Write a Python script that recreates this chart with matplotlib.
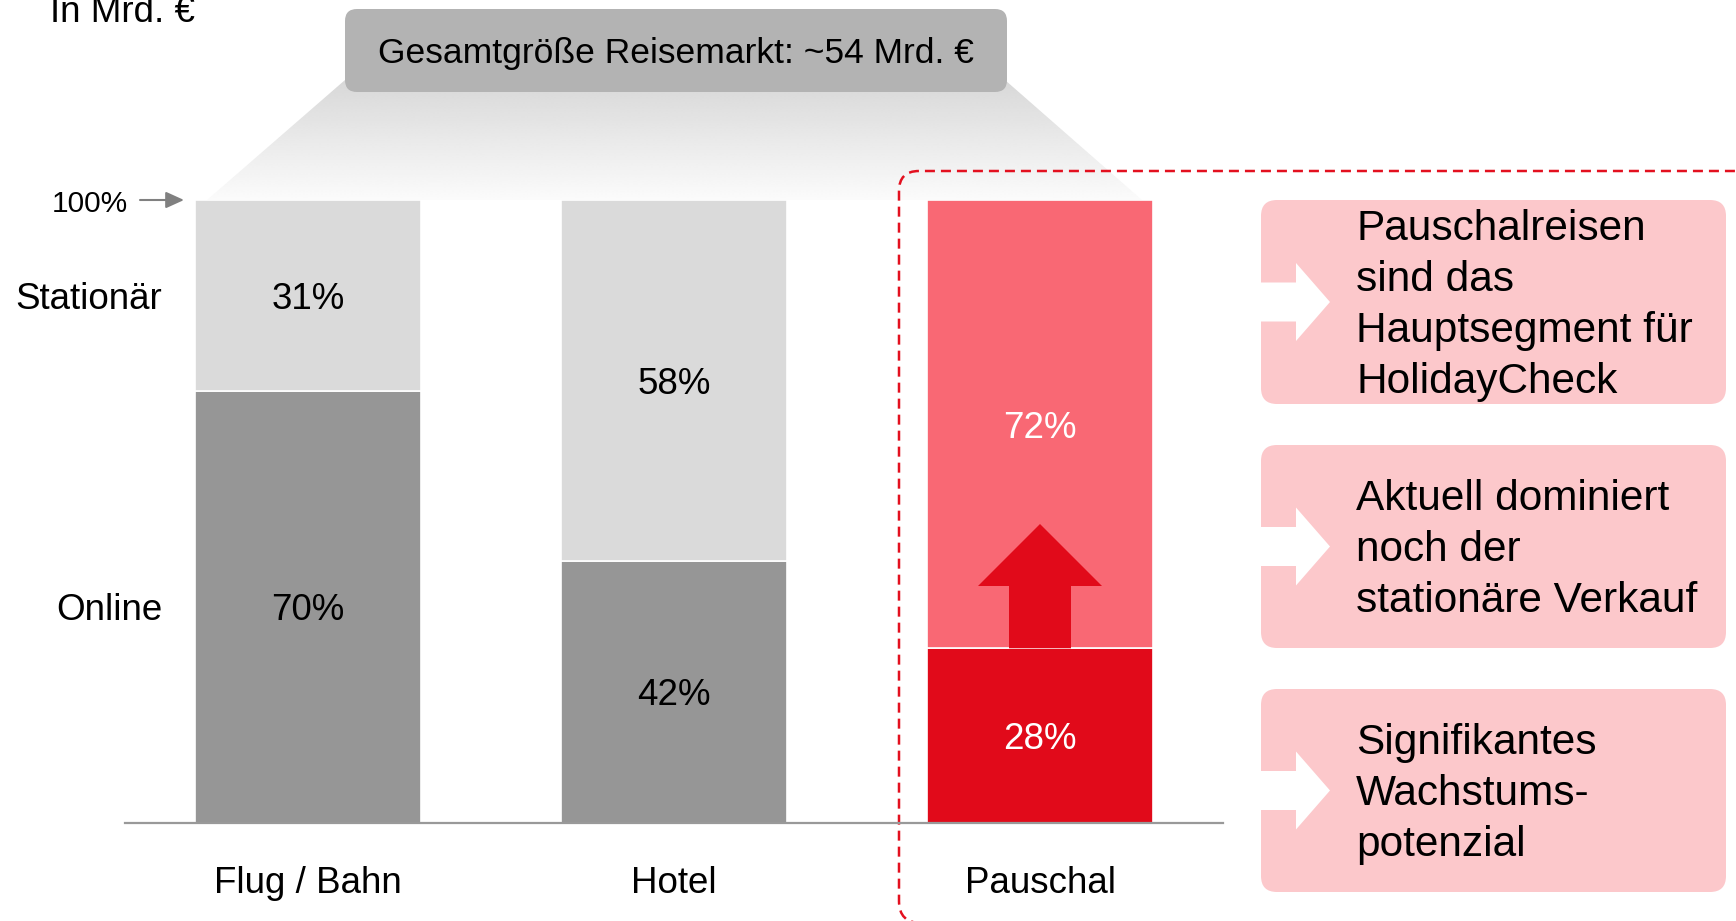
import matplotlib
matplotlib.use("Agg")
import matplotlib.pyplot as plt
from matplotlib.patches import FancyBboxPatch, Polygon, PathPatch
from matplotlib.path import Path
import numpy as np

plt.rcParams['font.family'] = ['Liberation Sans', 'DejaVu Sans']

# ---------------- data ----------------
categories = ["Flug / Bahn", "Hotel", "Pauschal"]
online = [70, 42, 28]
stationaer = [31, 58, 72]
online_labels = ["70%", "42%", "28%"]
stationaer_labels = ["31%", "58%", "72%"]
segment_names = ["Stationär", "Online"]
title_box_text = "Gesamtgröße Reisemarkt: ~54 Mrd. €"
unit_text = "In Mrd. €"
top_text = "100%"
insights = [
    ["Pauschalreisen", "sind das", "Hauptsegment für", "HolidayCheck"],
    ["Aktuell dominiert", "noch der", "stationäre Verkauf"],
    ["Signifikantes", "Wachstums-", "potenzial"],
]

# ---------------- style ----------------
online_colors = ["#969696", "#969696", "#E10A1A"]
stat_colors = ["#DADADA", "#DADADA", "#F96874"]
label_colors = ["black", "black", "white"]
RED = "#E3101F"
PINK = "#FCC8CB"
FS = 26.5

W, H = 1736, 921
fig = plt.figure(figsize=(W / 100, H / 100), dpi=100)

# background overlay in pixel coordinates
bg = fig.add_axes([0, 0, 1, 1], zorder=0)
bg.set_xlim(0, W)
bg.set_ylim(H, 0)
bg.axis("off")

# main bar axes: y 0 -> px 822.6, y 100 -> px 200 ; x -0.5 -> px 125, 2.5 -> px 1223
y0_px, y100_px = 822.6, 200.0
x_left_px, x_right_px = 125.0, 1223.0
ax = fig.add_axes([x_left_px / W, (H - y0_px) / H, (x_right_px - x_left_px) / W,
                   (y0_px - y100_px) / H], zorder=2)
ax.patch.set_alpha(0)
ax.set_xlim(-0.5, 2.5)
ax.set_ylim(0, 100)
px_per_val = (y0_px - y100_px) / 100.0
px_per_x = (x_right_px - x_left_px) / 3.0


def val_of_px(py):
    return (y0_px - py) / px_per_val


# fan gradient
fan = Polygon([(345, 80), (1005, 80), (1142, 200), (207, 200)], closed=True,
              fc="none", ec="none")
bg.add_patch(fan)
grad = np.linspace(0.845, 0.985, 256)[:, None] * np.ones((1, 2))
im = bg.imshow(grad, cmap="gray", vmin=0, vmax=1, extent=[195, 1150, 200, 80],
               origin="upper", aspect="auto", zorder=1, interpolation="bilinear")
im.set_clip_path(fan)
bg.set_xlim(0, W)
bg.set_ylim(H, 0)

# gray title box
bg.add_patch(FancyBboxPatch((345, 9), 662, 83, boxstyle="round,pad=0,rounding_size=12",
                            fc="#B3B3B3", ec="none", zorder=2))
bg.text(676, 63, title_box_text, ha="center", va="baseline", fontsize=25.5, zorder=3)

# dashed highlight box (left + top edges; bottom/right lie outside the canvas)
L, T, B, R = 899, 171, 923, 1760
rt, rb = 20, 22
verts = [(L + rb, B), (L, B), (L, B - rb), (L, T + rt), (L, T), (L + rt, T), (R, T)]
codes = [Path.MOVETO, Path.CURVE3, Path.CURVE3, Path.LINETO, Path.CURVE3, Path.CURVE3,
         Path.LINETO]
bg.add_patch(PathPatch(Path(verts, codes), fc="none", ec=RED, lw=1.8,
                       ls=(0, (4, 2.4)), zorder=2))

# unit label
bg.text(50, 22, unit_text, ha="left", va="baseline", fontsize=FS)

# 100% marker
bg.text(128, 201, top_text, ha="right", va="center_baseline", fontsize=21.5)
bg.annotate("", xy=(184, 200), xytext=(140, 200),
            arrowprops=dict(arrowstyle="-|>,head_length=0.55,head_width=0.25",
                            color="#808080", lw=1.5, mutation_scale=20,
                            shrinkA=0, shrinkB=0))

# insight boxes
boxes_px = [(200, 404), (445, 648), (689, 892)]
for (top, bot), lines in zip(boxes_px, insights):
    bg.add_patch(FancyBboxPatch((1261, top), 465, bot - top,
                                boxstyle="round,pad=0,rounding_size=16",
                                fc=PINK, ec="none", zorder=2))
    cy = (top + bot) / 2
    bg.add_patch(Polygon([(1259, cy - 19.5), (1296, cy - 19.5), (1296, cy - 39),
                          (1330, cy), (1296, cy + 39), (1296, cy + 19.5),
                          (1259, cy + 19.5)], closed=True, fc="white", ec="none",
                         zorder=3))
    n = len(lines)
    for i, line in enumerate(lines):
        base = cy + (i - (n - 1) / 2) * 51 + 14.5
        bg.text(1356, base, line, ha="left", va="baseline", fontsize=30.5, zorder=4)

# ---------------- bars ----------------
x = np.arange(len(categories))
totals = [o + s for o, s in zip(online, stationaer)]
on_share = [o / t * 100 for o, t in zip(online, totals)]
st_share = [s / t * 100 for s, t in zip(stationaer, totals)]
bw = 226 / px_per_x

ax.bar(x, on_share, width=bw, color=online_colors, edgecolor="white", linewidth=1.2, zorder=2)
ax.bar(x, st_share, bottom=on_share, width=bw, color=stat_colors, edgecolor="white",
       linewidth=1.2, zorder=2)

for i in range(len(categories)):
    ax.text(x[i], on_share[i] / 2, online_labels[i], ha="center", va="center_baseline",
            fontsize=FS, color=label_colors[i], zorder=5)
    ax.text(x[i], on_share[i] + st_share[i] / 2, stationaer_labels[i], ha="center",
            va="center_baseline", fontsize=FS, color=label_colors[i], zorder=5)
    ax.text(x[i], val_of_px(893), categories[i], ha="center", va="baseline",
            fontsize=FS, clip_on=False)

# segment names on the left (aligned to first bar's segments)
lx = (162 - 308) / px_per_x
ax.text(lx, on_share[0] + st_share[0] / 2, segment_names[0], ha="right",
        va="center_baseline", fontsize=FS, clip_on=False)
ax.text(lx, on_share[0] / 2, segment_names[1], ha="right", va="center_baseline",
        fontsize=FS, clip_on=False)

# growth arrow in Pauschal bar
sw, hw = 31 / px_per_x, 62 / px_per_x
hb, tip = val_of_px(586), val_of_px(524)
cx = x[2]
ax.add_patch(Polygon([(cx - sw, on_share[2]), (cx - sw, hb), (cx - hw, hb), (cx, tip),
                      (cx + hw, hb), (cx + sw, hb), (cx + sw, on_share[2])],
                     closed=True, fc="#E10A1A", ec="none", zorder=4))

# axes cosmetics
for s in ["top", "right", "left"]:
    ax.spines[s].set_visible(False)
ax.spines["bottom"].set_color("#999999")
ax.spines["bottom"].set_linewidth(1.6)
ax.spines["bottom"].set_zorder(3)
ax.set_xticks([])
ax.set_yticks([])

fig.savefig("out.png", dpi=100)
